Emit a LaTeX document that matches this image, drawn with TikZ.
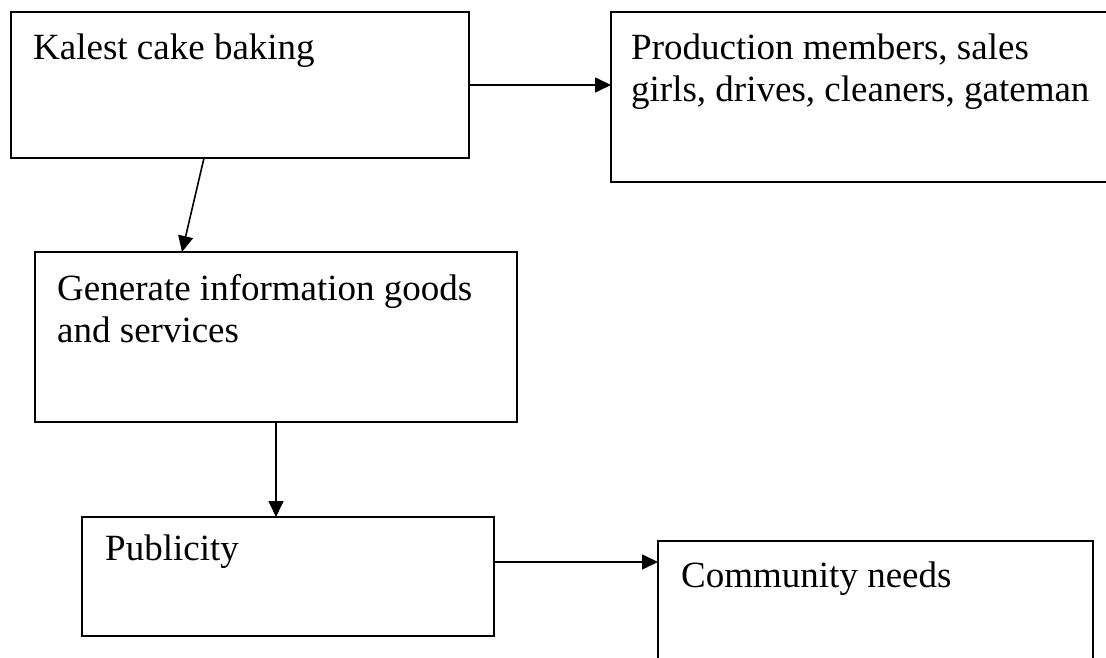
\documentclass[tikz,border=0pt]{standalone}
\usepackage{fontspec}
\setmainfont{Liberation Serif}
\usetikzlibrary{arrows.meta}
\begin{document}
\begin{tikzpicture}[x=1pt,y=-1pt,
  box/.style={draw=black,line width=1.6pt},
  lbl/.style={anchor=base west,inner sep=0pt,font=\fontsize{37}{42}\selectfont,align=left},
  conn/.style={line width=1.6pt,-{Triangle[length=16pt,width=15pt]}}]
\clip (0,0) rectangle (1106,658);
% boxes
\draw[box] (11,12) rectangle (469,158);
\coordinate (kE) at (469,85);
\coordinate (kS) at (204,158);
\draw[box] (1110,12) -- (611,12) -- (611,182) -- (1110,182);
\coordinate (pW) at (611,85);
\draw[box] (35,252) rectangle (517,422);
\coordinate (gN) at (182,252);
\coordinate (gS) at (276,422);
\draw[box] (82,517) rectangle (494,636);
\coordinate (uN) at (276,517);
\coordinate (uE) at (494,562);
\draw[box] (658,662) -- (658,541) -- (1093,541) -- (1093,662);
\coordinate (cW) at (658,562);
% texts
\node[lbl] (t1) at (33,60) {Kalest cake baking};
\node[lbl] (t2) at (631,102) {Production members, sales\\girls, drives, cleaners, gateman};
\node[lbl] (t3) at (57,342) {Generate information goods\\and services};
\node[lbl] (t4) at (105,560) {Publicity};
\node[lbl] (t5) at (681,587) {Community needs};
% connectors
\draw[conn] (kE) -- (pW);
\draw[conn] (kS) -- (gN);
\draw[conn] (gS) -- (uN);
\draw[conn] (uE) -- (cW);
\end{tikzpicture}
\end{document}
